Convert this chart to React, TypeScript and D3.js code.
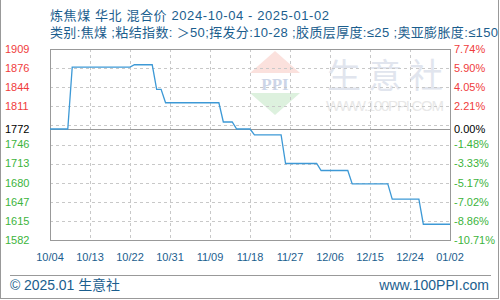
import React from "react";
import * as d3 from "d3";

const titleLine1 = "炼焦煤 华北 混合价 2024-10-04 - 2025-01-02";
const titleLine2 = "类别:焦煤 ;粘结指数: ＞50;挥发分:10-28 ;胶质层厚度:≤25 ;奥亚膨胀度:≤150";
const startDate = "2024-10-04";
const endDate = "2025-01-02";
// daily prices, 2024-10-04 .. 2025-01-02
const prices: number[] = [
  1772, 1772, 1772, 1772, 1772,
  1878, 1878, 1878, 1878, 1878, 1878, 1878, 1878, 1878, 1878, 1878, 1878, 1878, 1878,
  1882, 1882, 1882, 1882, 1882,
  1840, 1840,
  1817, 1817, 1817, 1817, 1817, 1817, 1817, 1817, 1817, 1817, 1817, 1817, 1817,
  1784, 1784, 1784,
  1772, 1772, 1772, 1772,
  1762, 1762, 1762, 1762, 1762, 1762, 1762,
  1713, 1713, 1713, 1713, 1713, 1713, 1713, 1713,
  1701, 1701, 1701, 1701, 1701, 1701, 1701,
  1678, 1678, 1678, 1678, 1678, 1678, 1678, 1678, 1678,
  1652, 1652, 1652, 1652, 1652, 1652, 1652,
  1609, 1609, 1609, 1609, 1609, 1609, 1609,
];
const basePrice = 1772;
const yMin = 1582;
const yMax = 1909;
const leftTicks = [1909, 1876, 1844, 1811, 1772, 1746, 1713, 1680, 1647, 1615, 1582];
const rightTicks = ["7.74%", "5.90%", "4.05%", "2.21%", "0.00%", "-1.48%", "-3.33%", "-5.17%", "-7.02%", "-8.86%", "-10.71%"];
const xTickLabels = ["10/04", "10/13", "10/22", "10/31", "11/09", "11/18", "11/27", "12/06", "12/15", "12/24", "01/02"];
const gridCount = 10;

const DAY = 86400000;

export default function App() {
  const W = 500, H = 300;
  const L = 50, R = 450, T = 49, B = 240;
  const t0 = new Date(startDate + "T00:00:00Z");
  const t1 = new Date(endDate + "T00:00:00Z");
  const x = d3.scaleUtc().domain([t0, t1]).range([L, R]);
  const y = d3.scaleLinear().domain([yMin, yMax]).range([B, T]);
  const data = prices.map((v, i) => ({ d: new Date(t0.getTime() + i * DAY), v }));
  const line = d3.line<{ d: Date; v: number }>().x((p) => x(p.d)).y((p) => y(p.v));
  const xTickDates = xTickLabels.map((_, i) => new Date(t0.getTime() + i * 9 * DAY));
  const gridVals = d3.range(gridCount + 1).map((k) => yMin + (k * (yMax - yMin)) / gridCount);
  const blue = "#1b5e8e";
  const font = "'Liberation Sans', 'Noto Sans CJK SC', sans-serif";
  const colorFor = (v: number) => (v > basePrice ? "#f03c3c" : v < basePrice ? "#3cb43c" : "#000");

  return (
    <svg width={W} height={H} style={{ position: "absolute", left: 0, top: 0, background: "#fff" }} fontFamily={font}>
      <rect x={0} y={0} width={W} height={H} fill="#fff" />
      {/* watermark */}
      <g>
        <polygon points="275,51 250,73 300,73" fill="#fbe1dd" />
        <text x={275} y={90} textAnchor="middle" fontSize={17} fontWeight="bold" fill="#ccd5e7" fontFamily="'Liberation Serif', serif">PPI</text>
        <polygon points="250,93 300,93 275,115" fill="#ddf1de" />
        <text x={327} y={88} fontSize={34} fill="#e1e5ee" fontFamily="'Noto Sans CJK SC', sans-serif" letterSpacing={7}>生意社</text>
        <text x={326} y={111} fontSize={15} fill="#e8e8e8" fontFamily="'Liberation Sans', sans-serif" textLength={118} lengthAdjust="spacing">WWW.100PPI.COM</text>
      </g>
      {/* grid */}
      {gridVals.map((v, i) => (
        <line key={"h" + i} x1={L} x2={R} y1={Math.round(y(v)) + 0.5} y2={Math.round(y(v)) + 0.5} stroke="#c8c8c8" strokeDasharray="3,3" />
      ))}
      {xTickDates.map((d, i) => (
        <line key={"v" + i} x1={Math.round(x(d)) + 0.5} x2={Math.round(x(d)) + 0.5} y1={T} y2={B} stroke="#c8c8c8" strokeDasharray="3,3" />
      ))}
      <line x1={L} x2={R} y1={Math.round(y(basePrice)) + 0.5} y2={Math.round(y(basePrice)) + 0.5} stroke="#999" strokeWidth={1.2} />
      <rect x={L + 0.5} y={T + 0.5} width={R - L} height={B - T} fill="none" stroke="#999" />
      {/* series */}
      <path d={line(data) || ""} fill="none" stroke="#3d99d6" strokeWidth={1.3} />
      {/* y labels */}
      {leftTicks.map((v, i) => (
        <text key={"l" + i} x={5} y={y(v)} dy="0.35em" fontSize={11} fill={colorFor(v)}>{v}</text>
      ))}
      {rightTicks.map((s, i) => (
        <text key={"r" + i} x={454} y={y(leftTicks[i])} dy="0.35em" fontSize={11} fill={colorFor(leftTicks[i])}>{s}</text>
      ))}
      {/* x labels */}
      {xTickDates.map((d, i) => (
        <text key={"x" + i} x={x(d)} y={257} dy="0.35em" textAnchor="middle" fontSize={11} fill={blue}>{xTickLabels[i]}</text>
      ))}
      {/* titles */}
      <text x={50} y={20} fontSize={13} fill={blue} textLength={279} lengthAdjust="spacing">{titleLine1}</text>
      <text x={50} y={37} fontSize={13} fill={blue} textLength={448} lengthAdjust="spacing">{titleLine2}</text>
      {/* footer */}
      <line x1={10} x2={491} y1={275.5} y2={275.5} stroke="#999" />
      <text x={10} y={290} fontSize={14} fill={blue} textLength={110} lengthAdjust="spacing">© 2025.01 生意社</text>
      <text x={489} y={290} fontSize={14} fill={blue} textAnchor="end">www.100PPI.com</text>
      {/* outer border */}
      <line x1={0.5} x2={0.5} y1={0} y2={299} stroke="#999" />
      <line x1={498.5} x2={498.5} y1={0} y2={299} stroke="#999" />
      <line x1={0} x2={499} y1={298.5} y2={298.5} stroke="#999" />
    </svg>
  );
}
